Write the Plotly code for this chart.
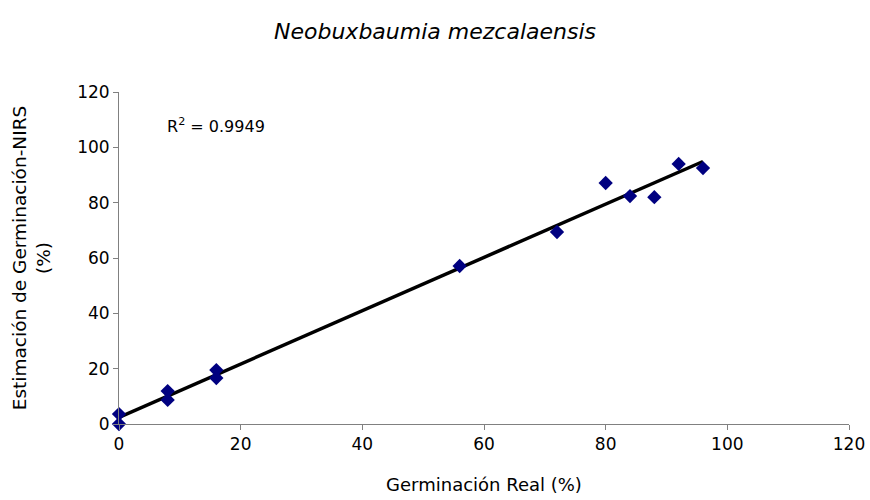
import numpy as np
import plotly.graph_objects as go

# Real germination (%) vs. NIRS-estimated germination (%)
germ_real = [0, 0, 8, 8, 16, 16, 56, 72, 80, 84, 88, 92, 96]
germ_nirs = [0, 3.6, 11.9, 8.7, 19.5, 16.6, 57.1, 69.4, 87.1, 82.4, 82.0, 94.0, 92.5]
r2_label = "R<sup>2</sup> = 0.9949"

x_ticks = [0, 20, 40, 60, 80, 100, 120]
y_ticks = [0, 20, 40, 60, 80, 100, 120]

# Least-squares trend line over the range of the data
slope, intercept = np.polyfit(germ_real, germ_nirs, 1)
fit_x = [min(germ_real), max(germ_real)]
fit_y = [slope * v + intercept for v in fit_x]

font_family = "DejaVu Sans, Arial, sans-serif"

fig = go.Figure()
fig.add_trace(go.Scatter(
    x=fit_x, y=fit_y, mode="lines",
    line=dict(color="black", width=3.5),
    showlegend=False, cliponaxis=False,
))
fig.add_trace(go.Scatter(
    x=germ_real, y=germ_nirs, mode="markers",
    marker=dict(symbol="diamond", size=11, color="#000080"),
    showlegend=False, cliponaxis=False,
))

fig.add_annotation(
    x=7.6, y=108, xref="x", yref="y", text=r2_label, showarrow=False,
    xanchor="left", yanchor="middle",
    font=dict(family=font_family, size=16, color="black"),
)

axis_common = dict(
    showgrid=False, zeroline=False, showline=True, linecolor="#808080",
    linewidth=1, ticks="outside", ticklen=5, tickcolor="#808080",
    tickfont=dict(family=font_family, size=17, color="black"),
    automargin=False,
)

fig.update_layout(
    width=870, height=500,
    margin=dict(l=119, r=21, t=92, b=76),
    paper_bgcolor="white", plot_bgcolor="white",
    title=dict(
        text="<i>Neobuxbaumia mezcalaensis</i>",
        x=0.5, xanchor="center", y=1 - 31 / 500, yanchor="middle",
        font=dict(family=font_family, size=22, color="black"),
    ),
    xaxis=dict(
        range=[0, 120], tickvals=x_ticks, **axis_common,
        title=dict(text="Germinación Real (%)", standoff=24,
                   font=dict(family=font_family, size=18, color="black")),
    ),
    yaxis=dict(
        range=[0, 120], tickvals=y_ticks, **axis_common,
        title=dict(text="Estimación de Germinación-NIRS<br>(%)", standoff=21,
                   font=dict(family=font_family, size=18.5, color="black")),
    ),
)

fig.write_html("out.html")
